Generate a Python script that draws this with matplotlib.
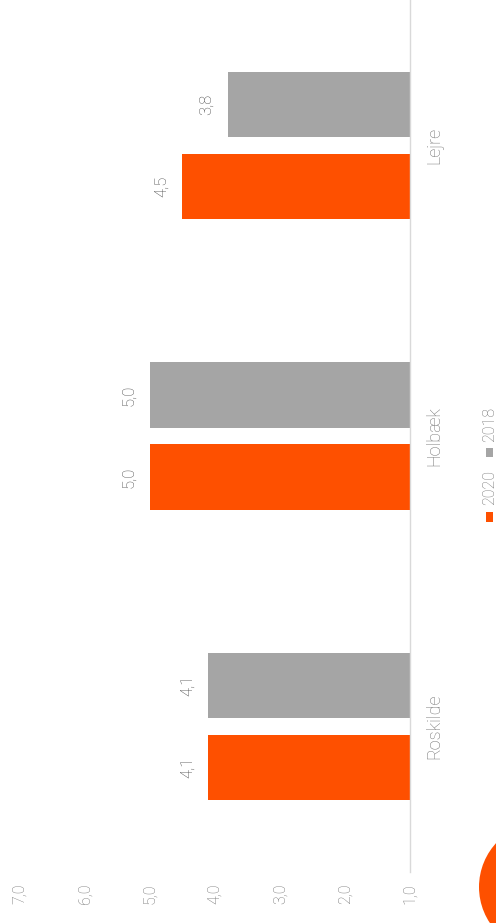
import matplotlib
matplotlib.use("Agg")
import matplotlib.pyplot as plt
from matplotlib.patches import Circle, Rectangle
import numpy as np

categories = ["Roskilde", "Holbæk", "Lejre"]
series_names = ["2020", "2018"]
values_2020 = [4.1, 5.0, 4.5]
values_2018 = [4.1, 5.0, 3.8]
value_ticks = [1.0, 2.0, 3.0, 4.0, 5.0, 6.0, 7.0]
tick_labels = ["1,0", "2,0", "3,0", "4,0", "5,0", "6,0", "7,0"]

ORANGE = "#FE5000"
GRAY = "#A5A5A5"
TXT = "#4D4D4D"
TICK = "#737373"
FONT = "Roboto"
W, H = 496, 923

plt.rcParams['font.family'] = [FONT, 'DejaVu Sans']

fig = plt.figure(figsize=(W / 100, H / 100), dpi=100)

# background overlay in pixel coordinates (logo circle, legend)
bg = fig.add_axes([0, 0, 1, 1])
bg.set_xlim(0, W)
bg.set_ylim(H, 0)
bg.axis("off")
bg.add_patch(Circle((544, 887), 65, color=ORANGE, lw=0))

ax = fig.add_axes([20 / W, (H - 872) / H, (410 - 20) / W, 872 / H])
ax.patch.set_alpha(0)

base = 1.0
y = np.arange(len(categories))
bh = 0.224
off = 0.141
b1 = ax.barh(y - off, np.array(values_2020) - base, left=base, height=bh, color=ORANGE, label=series_names[0])
b2 = ax.barh(y + off, np.array(values_2018) - base, left=base, height=bh, color=GRAY, label=series_names[1])

for bars, vals in ((b1, values_2020), (b2, values_2018)):
    for rect, v in zip(bars, vals):
        ax.annotate(f"{v:.1f}".replace(".", ","), (v, rect.get_y() + rect.get_height() / 2),
                    xytext=(-10, 0), textcoords="offset points", rotation=90,
                    ha="right", va="center", fontsize=12, color=TXT, fontweight="light")

ax.set_xlim(7.0, 1.0)
ax.set_ylim(-0.5, 2.5)
ax.set_xticks(value_ticks)
ax.set_xticklabels(tick_labels, rotation=90, fontsize=11.5, color=TICK, fontweight="light")
ax.set_yticks(y)
ax.set_yticklabels(categories, rotation=90, va="center", fontsize=13, color=TICK, fontweight="light")
ax.yaxis.tick_right()
ax.tick_params(axis="both", length=0)
ax.tick_params(axis="x", pad=8)
ax.tick_params(axis="y", pad=11)
for s in ("top", "left", "bottom"):
    ax.spines[s].set_visible(False)
ax.spines["right"].set_color("#D9D9D9")
ax.spines["right"].set_linewidth(1.0)

# legend (rotated)
bg.add_patch(Rectangle((486, 512), 7, 10, color=ORANGE, lw=0))
bg.text(490, 505, series_names[0], rotation=90, ha="center", va="bottom", fontsize=11.5,
        color=TICK, fontweight="light")
bg.add_patch(Rectangle((486, 448), 7, 9, color=GRAY, lw=0))
bg.text(490, 442, series_names[1], rotation=90, ha="center", va="bottom", fontsize=11.5,
        color=TICK, fontweight="light")

fig.savefig("out.png", dpi=100)
